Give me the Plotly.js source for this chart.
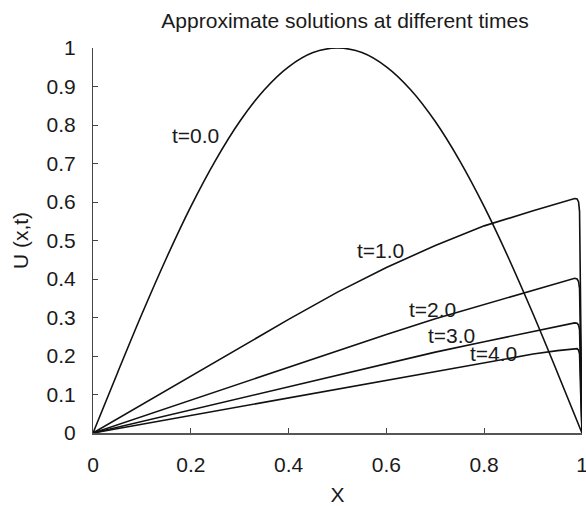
<!DOCTYPE html>
<html>
<head>
<meta charset="utf-8">
<script src="https://cdn.plot.ly/plotly-3.0.1.min.js"></script>
<style>
  html, body { margin: 0; padding: 0; background: #fff; }
  #chart { width: 586px; height: 506px; }
</style>
</head>
<body>
<div id="chart"></div>
<script>
// Initial profile U(x,0)
const x0 = [0, 0.05, 0.1, 0.15, 0.2, 0.25, 0.3, 0.35, 0.4, 0.45, 0.5,
            0.55, 0.6, 0.65, 0.7, 0.75, 0.8, 0.85, 0.9, 0.95, 1.0];
const u0 = [0, 0.156, 0.309, 0.454, 0.588, 0.707, 0.809, 0.891, 0.951, 0.988, 1.0,
            0.988, 0.951, 0.891, 0.809, 0.707, 0.588, 0.454, 0.309, 0.156, 0];

// Later times share one grid, refined near the right boundary layer
const xt = [0, 0.1, 0.2, 0.3, 0.4, 0.5, 0.6, 0.7, 0.8, 0.9, 0.95, 0.97, 0.98,
            0.985, 0.99, 0.993, 0.995, 0.997, 0.999, 1.0];
const u1 = [0, 0.074, 0.147, 0.221, 0.295, 0.366, 0.430, 0.487, 0.538, 0.577, 0.595, 0.602, 0.606,
            0.609, 0.608, 0.600, 0.575, 0.300, 0.060, 0];
const u2 = [0, 0.043, 0.086, 0.129, 0.171, 0.214, 0.256, 0.297, 0.334, 0.370, 0.388, 0.395, 0.399,
            0.402, 0.400, 0.393, 0.375, 0.200, 0.040, 0];
const u3 = [0, 0.030, 0.060, 0.090, 0.119, 0.149, 0.178, 0.210, 0.237, 0.263, 0.276, 0.282, 0.285,
            0.286, 0.285, 0.280, 0.268, 0.150, 0.030, 0];
const u4 = [0, 0.023, 0.046, 0.069, 0.092, 0.114, 0.138, 0.160, 0.182, 0.205, 0.214, 0.217, 0.219,
            0.220, 0.219, 0.215, 0.205, 0.115, 0.025, 0];

const curveLabels = ["t=0.0", "t=1.0", "t=2.0", "t=3.0", "t=4.0"];

const FONT = "Liberation Sans, Arial, sans-serif";
const INK = "#1a1a1a";
const FS = 21;
const lineStyle = { color: "#111", width: 1.6 };

const traces = [
  { x: x0, y: u0, mode: "lines", line: Object.assign({ shape: "spline" }, lineStyle), name: curveLabels[0] },
  { x: xt, y: u1, mode: "lines", line: lineStyle, name: curveLabels[1] },
  { x: xt, y: u2, mode: "lines", line: lineStyle, name: curveLabels[2] },
  { x: xt, y: u3, mode: "lines", line: lineStyle, name: curveLabels[3] },
  { x: xt, y: u4, mode: "lines", line: lineStyle, name: curveLabels[4] }
];

// label anchor points (data coordinates) for each curve
const labelPos = [[0.210, 0.772], [0.588, 0.474], [0.695, 0.320], [0.7325, 0.253], [0.819, 0.2055]];
const annotations = curveLabels.map((txt, i) => ({
  x: labelPos[i][0], y: labelPos[i][1], xref: "x", yref: "y",
  text: txt, showarrow: false, xanchor: "center", yanchor: "middle",
  font: { family: FONT, size: FS, color: INK }
}));

const layout = {
  width: 586, height: 506,
  margin: { l: 93, r: 4, t: 48, b: 73 },
  paper_bgcolor: "#fff", plot_bgcolor: "#fff",
  showlegend: false,
  font: { family: FONT, size: FS, color: INK },
  title: {
    text: "Approximate solutions at different times",
    font: { family: FONT, size: FS, color: INK },
    x: 345 / 586, xref: "container", xanchor: "center",
    y: 1 - 21 / 506, yref: "container", yanchor: "middle"
  },
  xaxis: {
    range: [0, 1], tickvals: [0, 0.2, 0.4, 0.6, 0.8, 1], ticktext: ["0", "0.2", "0.4", "0.6", "0.8", "1"],
    ticks: "inside", ticklen: 5, tickwidth: 1, tickcolor: "#444",
    showline: true, linecolor: "#555", linewidth: 2, mirror: false,
    showgrid: false, zeroline: false, ticklabelstandoff: 12, ticklabeloverflow: "allow",
    tickfont: { family: FONT, size: FS, color: INK },
    title: { text: "X", font: { family: FONT, size: FS, color: INK }, standoff: 15 }
  },
  yaxis: {
    range: [0, 1], tickvals: [0, 0.1, 0.2, 0.3, 0.4, 0.5, 0.6, 0.7, 0.8, 0.9, 1],
    ticktext: ["0", "0.1", "0.2", "0.3", "0.4", "0.5", "0.6", "0.7", "0.8", "0.9", "1"],
    ticks: "inside", ticklen: 5, tickwidth: 1, tickcolor: "#444",
    showline: true, linecolor: "#444", linewidth: 1, mirror: false,
    showgrid: false, zeroline: false, ticklabelstandoff: 12, ticklabeloverflow: "allow",
    tickfont: { family: FONT, size: FS, color: INK },
    title: { text: "U (x,t)", font: { family: FONT, size: FS, color: INK }, standoff: 12 }
  },
  annotations: annotations
};

Plotly.newPlot("chart", traces, layout, { displayModeBar: false, staticPlot: true });
</script>
</body>
</html>
